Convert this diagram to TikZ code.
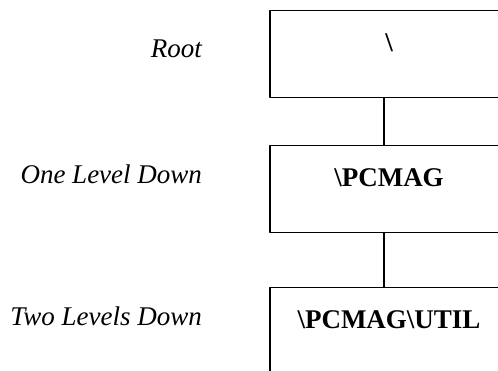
\documentclass[tikz,border=0pt]{standalone}
\usepackage{fontspec}
\setmainfont{Liberation Serif}
\begin{document}
\begin{tikzpicture}[x=1pt, y=1pt, line join=round, line width=1.4pt]
  \tikzset{
    dirbox/.style={draw, anchor=north, minimum width=238pt, inner xsep=0pt, inner ysep=0pt,
      text height=41pt, text depth=46pt, font=\fontsize{27}{31}\selectfont\bfseries},
    levellbl/.style={anchor=base east, font=\fontsize{27}{31}\selectfont\itshape}
  }
  \useasboundingbox (0,0) rectangle (498,370);
  \clip (0,0) rectangle (498,370);

  % directory boxes
  \node[dirbox] (root) at (389,360) {\textbackslash};
  \node[dirbox] (pcmag) at (389,225) {\textbackslash PCMAG};
  \node[dirbox, text depth=70pt] (util) at (389,83) {\textbackslash PCMAG\textbackslash UTIL};

  \draw ([xshift=-5pt]root.south) -- ([xshift=-5pt]pcmag.north);
  \draw ([xshift=-5pt]pcmag.south) -- ([xshift=-5pt]util.north);

  % level labels
  \node[levellbl] (lroot) at (206,312) {Root};
  \node[levellbl] (lone) at (206,186) {One Level Down};
  \node[levellbl] (ltwo) at (206,45) {Two Levels Down};
\end{tikzpicture}
\end{document}
